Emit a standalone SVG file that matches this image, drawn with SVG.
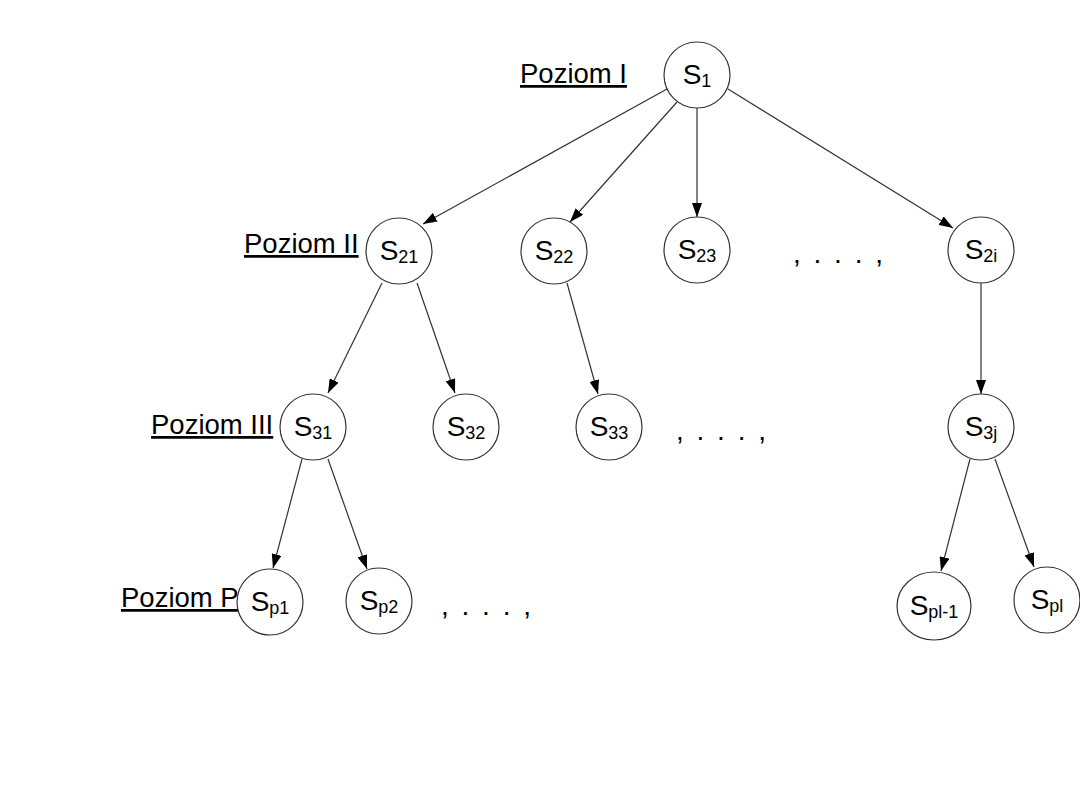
<svg xmlns="http://www.w3.org/2000/svg" width="1080" height="810" viewBox="0 0 1080 810">
<style>
.node circle, .node ellipse{fill:#fff;stroke:#333;stroke-width:1.2}
.nt{font-family:"Liberation Sans",Arial,sans-serif;font-size:28px;fill:#000;text-anchor:middle}
.sub{font-size:18px}
.lbl{font-family:"Liberation Sans",Arial,sans-serif;font-size:27.5px;fill:#000;text-decoration:underline}
.dots{font-family:"Liberation Sans",Arial,sans-serif;font-size:28px;fill:#000;letter-spacing:2.5px}
.conn line{stroke:#333;stroke-width:1.2;marker-end:url(#arr)}
</style>
<defs>
<marker id="arr" markerUnits="userSpaceOnUse" markerWidth="16" markerHeight="10" refX="14" refY="5" orient="auto">
<path d="M0,0 L14,5 L0,10 z" fill="#000"/>
</marker>
</defs>
<rect width="1080" height="810" fill="#fff"/>
<g id="labels">
<text class="lbl" x="520" y="83">Poziom I</text>
<text class="lbl" x="244" y="253">Poziom II</text>
<text class="lbl" x="151" y="434">Poziom III</text>
<text class="lbl" x="121" y="607">Poziom P</text>
<text class="dots" x="793" y="263">, . . . ,</text>
<text class="dots" x="676" y="440">, . . . ,</text>
<text class="dots" x="441" y="615">, . . . ,</text>
</g>
<g class="conn" id="connectors">
<line x1="667" y1="89" x2="423" y2="224"/>
<line x1="677" y1="102" x2="570" y2="222"/>
<line x1="697" y1="108" x2="697" y2="217"/>
<line x1="728" y1="89" x2="953" y2="228"/>
<line x1="382" y1="283" x2="328" y2="393"/>
<line x1="417" y1="283" x2="455" y2="393"/>
<line x1="567" y1="283" x2="598" y2="394"/>
<line x1="981" y1="283" x2="981" y2="394"/>
<line x1="302" y1="459" x2="273" y2="568"/>
<line x1="328" y1="459" x2="367" y2="569"/>
<line x1="970" y1="459" x2="941" y2="571"/>
<line x1="995" y1="459" x2="1034" y2="567"/>
</g>
<g class="node" id="S1"><circle cx="697" cy="75" r="33"/><text class="nt" x="697" y="84">S<tspan class="sub" dy="3">1</tspan></text></g>
<g class="node" id="S21"><circle cx="399" cy="251" r="33"/><text class="nt" x="399" y="260">S<tspan class="sub" dy="3">21</tspan></text></g>
<g class="node" id="S22"><circle cx="554" cy="251" r="33"/><text class="nt" x="554" y="260">S<tspan class="sub" dy="3">22</tspan></text></g>
<g class="node" id="S23"><circle cx="697" cy="250" r="33"/><text class="nt" x="697" y="259">S<tspan class="sub" dy="3">23</tspan></text></g>
<g class="node" id="S2i"><circle cx="981" cy="250" r="33"/><text class="nt" x="981" y="259">S<tspan class="sub" dy="3">2i</tspan></text></g>
<g class="node" id="S31"><circle cx="313" cy="427" r="33"/><text class="nt" x="313" y="436">S<tspan class="sub" dy="3">31</tspan></text></g>
<g class="node" id="S32"><circle cx="466" cy="427" r="33"/><text class="nt" x="466" y="436">S<tspan class="sub" dy="3">32</tspan></text></g>
<g class="node" id="S33"><circle cx="609" cy="427" r="33"/><text class="nt" x="609" y="436">S<tspan class="sub" dy="3">33</tspan></text></g>
<g class="node" id="S3j"><circle cx="981" cy="427" r="33"/><text class="nt" x="981" y="436">S<tspan class="sub" dy="3">3j</tspan></text></g>
<g class="node" id="Sp1"><circle cx="270" cy="602" r="33"/><text class="nt" x="270" y="611">S<tspan class="sub" dy="3">p1</tspan></text></g>
<g class="node" id="Sp2"><circle cx="379" cy="601" r="33"/><text class="nt" x="379" y="610">S<tspan class="sub" dy="3">p2</tspan></text></g>
<g class="node" id="Spl-1"><ellipse cx="934" cy="606" rx="37" ry="34"/><text class="nt" x="934" y="615">S<tspan class="sub" dy="3">pl-1</tspan></text></g>
<g class="node" id="Spl"><circle cx="1047" cy="600" r="33"/><text class="nt" x="1047" y="609">S<tspan class="sub" dy="3">pl</tspan></text></g>
</svg>
